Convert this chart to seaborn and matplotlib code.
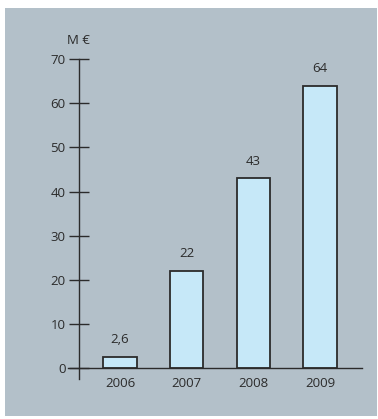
import matplotlib
matplotlib.use("Agg")
import matplotlib.pyplot as plt
from matplotlib.patches import Rectangle
import seaborn as sns
import pandas as pd

# Annual amounts, in millions of euros
years = ["2006", "2007", "2008", "2009"]
amounts = [2.6, 22, 43, 64]
value_labels = ["2,6", "22", "43", "64"]
y_ticks = [0, 10, 20, 30, 40, 50, 60, 70]
unit_label = "M €"

panel_color = "#b3c0c9"
bar_color = "#c6e8f8"
ink = "#2b2b2b"
fs = 9.5

sns.set_theme(style="white")
plt.rcParams["font.family"] = ["Open Sans", "DejaVu Sans"]

W, H = 378, 419
fig = plt.figure(figsize=(W / 100, H / 100), dpi=100)
fig.patch.set_facecolor("white")

# grey background panel, kept behind the axes
fig.patches.append(Rectangle((5 / W, (H - 416) / H), 372 / W, 408 / H,
                             transform=fig.transFigure, facecolor=panel_color,
                             edgecolor="none", zorder=-10))

ax_left, ax_right = 68, 361.7
ax_top, ax_bottom = 59.3, 378.7
ax = fig.add_axes([ax_left / W, (H - ax_bottom) / H,
                   (ax_right - ax_left) / W, (ax_bottom - ax_top) / H])
ax.set_facecolor("none")

df = pd.DataFrame({"year": years, "amount": amounts})
sns.barplot(data=df, x="year", y="amount", ax=ax, color=bar_color,
            saturation=1, width=0.5, edgecolor=ink, linewidth=1.3, zorder=2)

ax.set_xlim(-0.78, 3.624)
ax.set_ylim(-2.43, 70)
ax.set_yticks(y_ticks)
ax.set_xlabel("")
ax.set_ylabel("")

for side in ["top", "right"]:
    ax.spines[side].set_visible(False)
ax.spines["left"].set_position(("data", -0.62))
ax.spines["bottom"].set_position(("data", 0))
for side in ["left", "bottom"]:
    ax.spines[side].set_color(ink)
    ax.spines[side].set_linewidth(1.0)
    ax.spines[side].set_zorder(3)

ax.tick_params(axis="y", direction="inout", length=15, width=1.0,
               color=ink, labelcolor=ink, labelsize=fs, pad=2, left=True)
ax.tick_params(axis="x", length=0, labelcolor=ink, labelsize=fs, pad=6.5)

for i, (v, lab) in enumerate(zip(amounts, value_labels)):
    ax.annotate(lab, (i, v), xytext=(0, 12.5), textcoords="offset points",
                ha="center", va="center", fontsize=fs, color=ink)

ax.text(-0.62, 74.2, unit_label, ha="center", va="center", fontsize=fs,
        color=ink, clip_on=False)

fig.savefig("out.png", dpi=100, facecolor=fig.get_facecolor())
